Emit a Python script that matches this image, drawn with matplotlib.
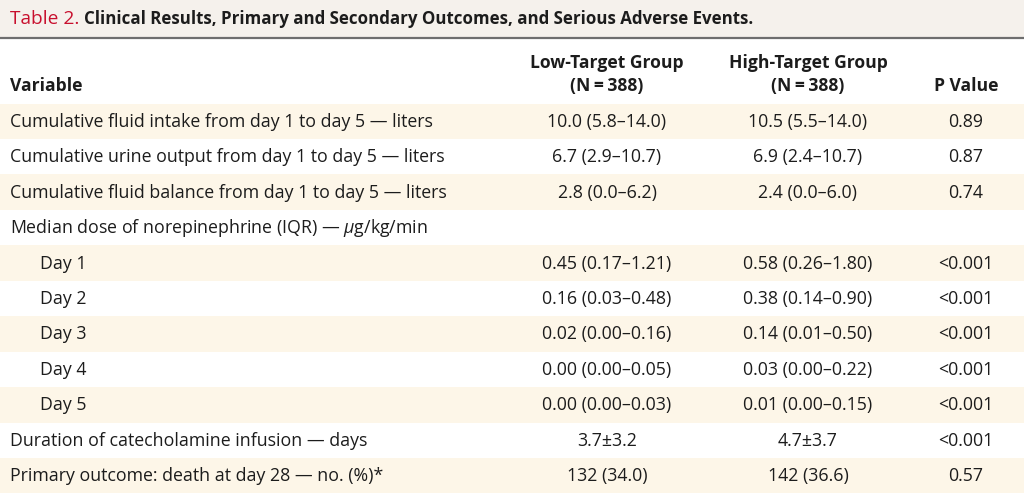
import matplotlib.pyplot as plt

# table content
variables = [
    "Cumulative fluid intake from day 1 to day 5 \u2014 liters",
    "Cumulative urine output from day 1 to day 5 \u2014 liters",
    "Cumulative fluid balance from day 1 to day 5 \u2014 liters",
    "Median dose of norepinephrine (IQR) \u2014 $\\mu$g/kg/min",
    "Day 1",
    "Day 2",
    "Day 3",
    "Day 4",
    "Day 5",
    "Duration of catecholamine infusion \u2014 days",
    "Primary outcome: death at day 28 \u2014 no. (%)*",
]
indent = [0, 0, 0, 0, 1, 1, 1, 1, 1, 0, 0]
low_target = ["10.0 (5.8\u201314.0)", "6.7 (2.9\u201310.7)", "2.8 (0.0\u20136.2)", "",
              "0.45 (0.17\u20131.21)", "0.16 (0.03\u20130.48)", "0.02 (0.00\u20130.16)",
              "0.00 (0.00\u20130.05)", "0.00 (0.00\u20130.03)", "3.7\u00b13.2", "132 (34.0)"]
high_target = ["10.5 (5.5\u201314.0)", "6.9 (2.4\u201310.7)", "2.4 (0.0\u20136.0)", "",
               "0.58 (0.26\u20131.80)", "0.38 (0.14\u20130.90)", "0.14 (0.01\u20130.50)",
               "0.03 (0.00\u20130.22)", "0.01 (0.00\u20130.15)", "4.7\u00b13.7", "142 (36.6)"]
p_values = ["0.89", "0.87", "0.74", "", "<0.001", "<0.001", "<0.001", "<0.001",
            "<0.001", "<0.001", "0.57"]

plt.rcParams['font.family'] = ['Open Sans', 'DejaVu Sans']
plt.rcParams['mathtext.fontset'] = 'custom'
plt.rcParams['mathtext.it'] = 'Open Sans:italic'
plt.rcParams['mathtext.rm'] = 'Open Sans'

fig = plt.figure(figsize=(10.24, 4.96), dpi=100)
ax = fig.add_axes([0, 0, 1, 1])
ax.set_xlim(0, 1024)
ax.set_ylim(496, 0)
ax.axis('off')

txt = '#1c1c1c'
fs = 12.8
fs_head = 12.6

# title band
ax.axhspan(0, 37, color='#f5f1ec', lw=0)
ax.axhline(38, color='#6e6e6e', lw=1.6)
ax.text(10, 19, "Table 2.", color='#c8102e', fontsize=13.8, va='center', ha='left')
ax.text(84, 19, "Clinical Results, Primary and Secondary Outcomes, and Serious Adverse Events.",
        color=txt, fontsize=12.2, fontweight='bold', va='center', ha='left')

# headers
cols = [607, 808, 966]
ax.text(10, 86, "Variable", fontsize=fs_head, fontweight='bold', color=txt, va='center')
ax.text(cols[0], 63, "Low-Target Group", fontsize=fs_head, fontweight='bold', color=txt, va='center', ha='center')
ax.text(cols[0], 86, "(N\u2009=\u2009388)", fontsize=fs_head, fontweight='bold', color=txt, va='center', ha='center')
ax.text(cols[1], 63, "High-Target Group", fontsize=fs_head, fontweight='bold', color=txt, va='center', ha='center')
ax.text(cols[1], 86, "(N\u2009=\u2009388)", fontsize=fs_head, fontweight='bold', color=txt, va='center', ha='center')
ax.text(cols[2], 86, "P Value", fontsize=fs_head, fontweight='bold', color=txt, va='center', ha='center')

top = 103.5
h = 35.45
for i, var in enumerate(variables):
    y0 = top + i * h
    if i % 2 == 0:
        ax.axhspan(y0, y0 + h, color='#fdf6e8', lw=0)
    yc = y0 + h / 2 + 0.5
    ax.text(10 + 30 * indent[i], yc, var, fontsize=fs, color=txt, va='center', ha='left')
    ax.text(cols[0], yc, low_target[i], fontsize=fs, color=txt, va='center', ha='center')
    ax.text(cols[1], yc, high_target[i], fontsize=fs, color=txt, va='center', ha='center')
    ax.text(cols[2], yc, p_values[i], fontsize=fs, color=txt, va='center', ha='center')

fig.savefig('out.png', dpi=100)
